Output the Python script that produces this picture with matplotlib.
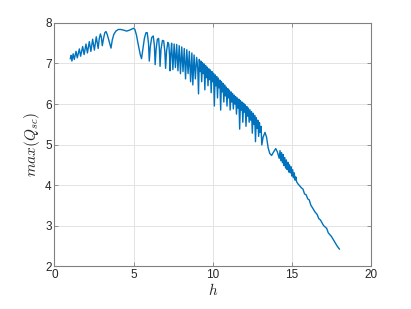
import matplotlib
matplotlib.use("Agg")
import matplotlib.pyplot as plt

# values: peaks, troughs and shoulders of the curve
h_low = [1.00, 1.05, 1.10, 1.18, 1.25, 1.36, 1.44, 1.57, 1.65, 1.78, 1.87, 1.99,
         2.08, 2.20, 2.30, 2.41, 2.52, 2.64, 2.76, 2.83, 2.90, 2.96, 3.02, 3.10,
         3.18, 3.25, 3.33, 3.45, 3.57]
q_low = [7.12, 7.20, 7.06, 7.24, 7.10, 7.30, 7.14, 7.36, 7.18, 7.42, 7.22, 7.48,
         7.26, 7.54, 7.30, 7.60, 7.33, 7.66, 7.37, 7.62, 7.73, 7.65, 7.44, 7.62,
         7.76, 7.79, 7.72, 7.55, 7.38]

h_mid = [3.65, 3.75, 3.88, 4.03, 4.20, 4.40, 4.56, 4.72, 4.88, 5.00, 5.08, 5.18,
         5.30, 5.42, 5.50, 5.58, 5.68, 5.78, 5.86, 5.94, 5.99, 6.05, 6.14, 6.24,
         6.31, 6.36, 6.42, 6.50, 6.58, 6.63, 6.67, 6.73, 6.82, 6.90, 6.97, 7.02,
         7.08, 7.16, 7.22, 7.27, 7.30, 7.35, 7.40]
q_mid = [7.58, 7.72, 7.80, 7.84, 7.84, 7.82, 7.80, 7.82, 7.85, 7.87, 7.84, 7.70,
         7.45, 7.22, 7.12, 7.35, 7.62, 7.76, 7.76, 7.50, 7.06, 7.40, 7.64, 7.68,
         7.45, 6.97, 7.35, 7.60, 7.62, 7.35, 6.93, 7.35, 7.57, 7.56, 7.30, 6.88,
         7.30, 7.52, 7.48, 7.20, 6.82, 7.25, 7.50]

h_spiky = [7.48, 7.56, 7.64, 7.72, 7.80, 7.88, 7.96, 8.04, 8.12, 8.20, 8.28,
           8.36, 8.44, 8.52, 8.60, 8.68, 8.74, 8.82, 8.90, 8.98]
q_spiky = [6.85, 7.48, 6.90, 7.47, 6.82, 7.44, 6.75, 7.41, 6.80, 7.37, 6.62,
           7.34, 6.75, 7.30, 6.55, 7.26, 6.47, 7.21, 6.62, 7.15]

h_dense = [9.05, 9.10, 9.15, 9.20, 9.25, 9.30, 9.35, 9.40, 9.45, 9.50, 9.55,
           9.60, 9.65, 9.70, 9.75, 9.80, 9.85, 9.90, 9.95, 10.00, 10.05, 10.10,
           10.15, 10.20, 10.25, 10.30, 10.35, 10.40, 10.45, 10.50, 10.55, 10.60,
           10.65, 10.70, 10.75, 10.80, 10.85, 10.90, 10.95, 11.00, 11.05, 11.10,
           11.15, 11.20, 11.25, 11.30, 11.35, 11.40, 11.45, 11.50, 11.55, 11.60,
           11.65, 11.70, 11.75, 11.80, 11.85, 11.90, 11.95, 12.00, 12.05, 12.10,
           12.15, 12.20, 12.25, 12.30, 12.35, 12.40, 12.45, 12.50, 12.55, 12.60,
           12.65, 12.70, 12.75, 12.80, 12.85, 12.90, 12.95, 13.00, 13.05, 13.10]
q_dense = [6.90, 6.25, 7.10, 6.80, 7.06, 6.55, 7.02, 6.75, 6.99, 6.35, 6.95,
           6.65, 6.91, 6.45, 6.87, 6.60, 6.84, 6.28, 6.80, 6.55, 6.76, 5.95,
           6.72, 6.45, 6.68, 6.15, 6.64, 6.40, 6.59, 5.85, 6.55, 6.30,
           6.51, 6.05, 6.47, 6.20, 6.42, 5.95, 6.38, 6.15, 6.34, 5.85,
           6.30, 6.05, 6.26, 5.88, 6.22, 6.00, 6.18, 5.75, 6.15, 5.90,
           6.12, 5.38, 6.08, 5.85, 6.05, 5.55, 6.02, 5.80, 5.98, 5.45,
           5.94, 5.70, 5.90, 5.55, 5.86, 5.60, 5.81, 5.28, 5.77, 5.50,
           5.72, 5.07, 5.66, 5.40, 5.60, 5.20, 5.54, 5.30, 5.45, 4.99]

h_tail = [13.18, 13.30, 13.40, 13.50, 13.60, 13.72, 13.85, 13.98, 14.08, 14.20,
          14.25, 14.30, 14.35, 14.40, 14.45, 14.50, 14.55, 14.60, 14.65, 14.70,
          14.75, 14.80, 14.85, 14.90, 14.95, 15.00, 15.05, 15.10, 15.15, 15.20,
          15.25, 15.30, 15.40, 15.50, 15.60, 15.70, 15.80, 15.90, 16.00, 16.10,
          16.20, 16.30, 16.45, 16.60, 16.70, 16.80, 16.90, 17.00, 17.20, 17.30,
          17.50, 17.70, 17.85, 18.00]
q_tail = [5.18, 5.30, 5.18, 4.92, 4.78, 4.73, 4.82, 4.90, 4.82, 4.66,
          4.85, 4.60, 4.80, 4.55, 4.75, 4.48, 4.68, 4.42, 4.62, 4.38,
          4.56, 4.32, 4.50, 4.30, 4.45, 4.22, 4.38, 4.18, 4.30, 4.12,
          4.20, 4.08, 4.02, 3.98, 3.93, 3.90, 3.78, 3.76, 3.66, 3.63,
          3.50, 3.44, 3.34, 3.27, 3.17, 3.14, 3.07, 3.00, 2.93, 2.82,
          2.73, 2.60, 2.50, 2.42]

h = h_low + h_mid + h_spiky + h_dense + h_tail
q = q_low + q_mid + q_spiky + q_dense + q_tail

plt.rcParams['font.family'] = ['Liberation Sans', 'DejaVu Sans']
plt.rcParams['mathtext.fontset'] = 'cm'

fig = plt.figure(figsize=(4.11, 3.09), dpi=100)
ax = fig.add_axes([0.1326, 0.139, 0.7701, 0.7866])

ax.plot(h, q, color='#0072BD', linewidth=1.0)

ax.set_xlim(0, 20)
ax.set_ylim(2, 8)
ax.set_xticks([0, 5, 10, 15, 20])
ax.set_yticks([2, 3, 4, 5, 6, 7, 8])
ax.grid(True, color='#e3e3e3', linewidth=0.7)
ax.set_axisbelow(True)
for s in ax.spines.values():
    s.set_color('#808080')
    s.set_linewidth(0.8)
ax.tick_params(direction='in', length=3, width=0.6, color='#808080',
               labelsize=8.5, labelcolor='#262626', top=True, right=True, pad=2)

ax.set_xlabel('$h$', fontsize=11, color='#262626', labelpad=1)
ax.set_ylabel('$max(Q_{sc})$', fontsize=11, color='#262626', labelpad=2)

fig.savefig('out.png', dpi=100)
